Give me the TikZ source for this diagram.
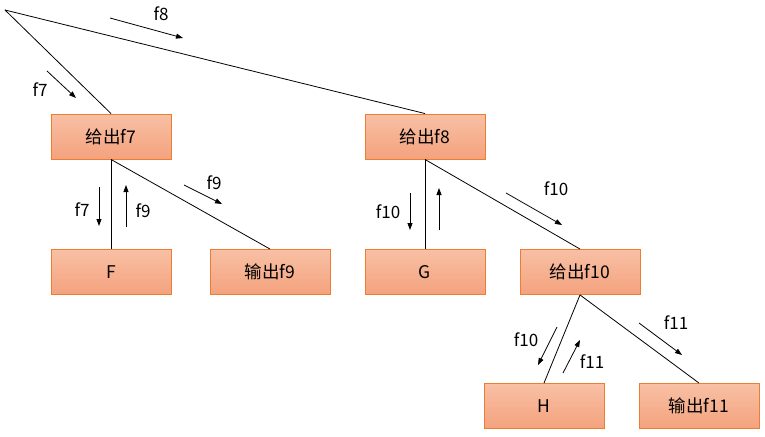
\documentclass[tikz,border=0pt]{standalone}
\usepackage{fontspec}
\setmainfont{Noto Sans CJK SC}
\usetikzlibrary{arrows.meta}
\definecolor{boxtop}{HTML}{F8C0A5}
\definecolor{boxbot}{HTML}{F4A27D}
\definecolor{boxline}{HTML}{ED7D31}
\begin{document}
\begin{tikzpicture}[x=1pt,y=-1pt,
  box/.style={draw=boxline,line width=0.9pt,top color=boxtop,bottom color=boxbot,
    minimum width=120pt,minimum height=45pt,inner sep=0pt,font=\fontsize{17.5}{17.5}\selectfont},
  edge/.style={draw=black,line width=0.8pt},
  flow/.style={draw=black,line width=0.8pt,-{Triangle[length=7pt,width=5pt]}},
  lab/.style={font=\fontsize{17}{17}\selectfont,inner sep=0pt}]
\useasboundingbox (0,0) rectangle (765,436);
\node[box] (g7) at (111,136.5) {给出f7};
\node[box] (g8) at (425,136.5) {给出f8};
\node[box] (F) at (111.5,272) {F};
\node[box] (o9) at (270,272) {输出f9};
\node[box] (G) at (425,272) {G};
\node[box] (g10) at (580,272) {给出f10};
\node[box] (H) at (544,406) {H};
\node[box] (o11) at (699,406) {输出f11};
\coordinate (root) at (5,10);
% connectors
\draw[edge] (root) -- (g7.north);
\draw[edge] (root) -- (g8.north);
\draw[edge] (g7.south) -- (F.north -| g7.south);
\draw[edge] (g7.south) -- (o9.north);
\draw[edge] (g8.south) -- (G.north);
\draw[edge] (g8.south) -- (g10.north);
\draw[edge] (g10.south) -- (H.north);
\draw[edge] (g10.south) -- (o11.north);
% flow arrows
\coordinate (a1s) at (110,18); \coordinate (a1e) at (183,38);
\draw[flow] (a1s) -- (a1e);
\node[lab] (l1) at (161,14) {f8};
\coordinate (a2s) at (47,71); \coordinate (a2e) at (76,98);
\draw[flow] (a2s) -- (a2e);
\node[lab] (l2) at (40,90) {f7};
\coordinate (a3s) at (99,187); \coordinate (a3e) at (99,226);
\draw[flow] (a3s) -- (a3e);
\node[lab] (l3) at (82,210) {f7};
\coordinate (a4s) at (126,227); \coordinate (a4e) at (126,185);
\draw[flow] (a4s) -- (a4e);
\node[lab] (l4) at (143,211) {f9};
\coordinate (a5s) at (184,185); \coordinate (a5e) at (222,204);
\draw[flow] (a5s) -- (a5e);
\node[lab] (l5) at (214,183) {f9};
\coordinate (a6s) at (410,193); \coordinate (a6e) at (410,230);
\draw[flow] (a6s) -- (a6e);
\node[lab] (l6) at (388,212) {f10};
\coordinate (a7s) at (439,230); \coordinate (a7e) at (439,188);
\draw[flow] (a7s) -- (a7e);
\coordinate (a8s) at (506,193); \coordinate (a8e) at (562,225);
\draw[flow] (a8s) -- (a8e);
\node[lab] (l8) at (556,189) {f10};
\coordinate (a9s) at (557,327); \coordinate (a9e) at (538,365);
\draw[flow] (a9s) -- (a9e);
\node[lab] (l9) at (526,340) {f10};
\coordinate (a10s) at (563,373); \coordinate (a10e) at (580,340);
\draw[flow] (a10s) -- (a10e);
\node[lab] (l10) at (592,362) {f11};
\coordinate (a11s) at (639,323); \coordinate (a11e) at (682,355);
\draw[flow] (a11s) -- (a11e);
\node[lab] (l11) at (676,323) {f11};
\end{tikzpicture}
\end{document}
